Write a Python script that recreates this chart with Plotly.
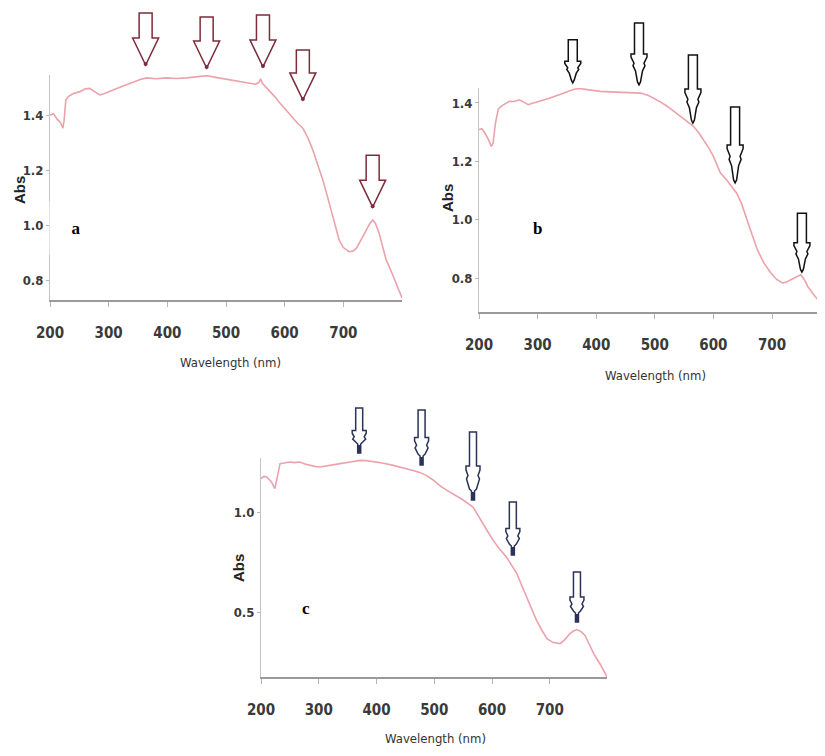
import plotly.graph_objects as go

# ---------------- data ----------------
wl_a = [200, 206, 212, 218, 222, 224, 227, 231, 240, 251, 260, 268, 276, 285, 293, 302, 315, 330, 342, 355,
        365, 380, 399, 415, 433, 450, 467, 485, 501, 520, 535, 550, 556, 559, 562, 569, 576, 583, 590, 597,
        605, 614, 622, 631, 640, 648, 656, 665, 674, 682, 688, 693, 700, 710, 716, 722, 730, 739, 745, 750,
        755, 761, 767, 773, 782, 790, 796, 800]
abs_a = [1.400, 1.405, 1.385, 1.372, 1.352, 1.380, 1.455, 1.467, 1.478, 1.485, 1.495, 1.497, 1.485, 1.473,
         1.478, 1.485, 1.497, 1.510, 1.521, 1.530, 1.535, 1.532, 1.535, 1.533, 1.535, 1.538, 1.543, 1.536,
         1.530, 1.522, 1.516, 1.512, 1.518, 1.532, 1.515, 1.500, 1.485, 1.467, 1.448, 1.430, 1.410, 1.388,
         1.370, 1.352, 1.315, 1.273, 1.220, 1.164, 1.095, 1.030, 0.980, 0.945, 0.918, 0.903, 0.905, 0.915,
         0.945, 0.982, 1.005, 1.018, 1.005, 0.970, 0.920, 0.873, 0.830, 0.788, 0.755, 0.735]

wl_b = [200, 205, 210, 216, 221, 224, 228, 233, 240, 252, 260, 269, 277, 284, 290, 304, 320, 338, 350, 361,
        370, 378, 392, 407, 425, 441, 460, 476, 490, 498, 510, 521, 532, 543, 555, 566, 575, 583, 592, 600,
        612, 623, 632, 640, 648, 657, 666, 675, 686, 698, 708, 718, 725, 732, 740, 749, 755, 761, 770, 778,
        785, 790]
abs_b = [1.309, 1.312, 1.297, 1.275, 1.251, 1.262, 1.330, 1.380, 1.392, 1.406, 1.405, 1.411, 1.402, 1.394,
         1.398, 1.406, 1.416, 1.429, 1.438, 1.446, 1.450, 1.448, 1.443, 1.440, 1.438, 1.437, 1.436, 1.434,
         1.425, 1.417, 1.403, 1.389, 1.372, 1.354, 1.336, 1.320, 1.298, 1.274, 1.246, 1.217, 1.160, 1.135,
         1.110, 1.090, 1.055, 1.005, 0.948, 0.897, 0.852, 0.817, 0.795, 0.783, 0.786, 0.794, 0.802, 0.811,
         0.795, 0.771, 0.746, 0.726, 0.715, 0.709]

wl_c = [200, 205, 210, 214, 218, 224, 228, 233, 240, 250, 258, 267, 276, 285, 293, 302, 320, 337, 355, 371,
        382, 394, 410, 429, 446, 463, 475, 486, 498, 509, 520, 532, 550, 567, 575, 584, 593, 602, 613, 625,
        634, 643, 651, 660, 668, 677, 686, 695, 706, 718, 726, 735, 741, 747, 754, 761, 768, 776, 788, 799]
abs_c = [1.167, 1.178, 1.175, 1.160, 1.150, 1.117, 1.180, 1.242, 1.245, 1.250, 1.247, 1.250, 1.240, 1.233,
         1.228, 1.225, 1.232, 1.242, 1.250, 1.258, 1.257, 1.253, 1.245, 1.233, 1.222, 1.208, 1.198, 1.183,
         1.160, 1.133, 1.112, 1.092, 1.060, 1.025, 0.985, 0.942, 0.900, 0.858, 0.815, 0.775, 0.735, 0.692,
         0.635, 0.575, 0.515, 0.458, 0.410, 0.367, 0.347, 0.342, 0.362, 0.392, 0.405, 0.412, 0.402, 0.383,
         0.340, 0.292, 0.235, 0.175]

# arrow tips (wavelength, absorbance)
arrow_a_wl = [363, 467, 563, 631, 750]
arrow_a_abs = [1.582, 1.571, 1.575, 1.455, 1.065]
arrow_b_wl = [360, 473, 565, 637, 751]
arrow_b_abs = [1.469, 1.462, 1.331, 1.126, 0.820]
arrow_c_wl = [370, 478, 567, 636, 747]
arrow_c_abs = [1.295, 1.235, 1.060, 0.785, 0.450]

x_ticks = [200, 300, 400, 500, 600, 700]
y_ticks_ab = [0.8, 1.0, 1.2, 1.4]
y_ticks_c = [0.5, 1.0]

# ---------------- layout / style ----------------
# the page body adds an 8px margin, so the figure is 8px smaller and positions are shifted by 8
OFF = 8
FW, FH = 825 - OFF, 756 - OFF
LINE = "#eba2aa"
NARROW = "DejaVu Sans Condensed, Liberation Sans Narrow, Arial Narrow, sans-serif"


def px(x):
    return (x - OFF) / FW


def py(y):
    return 1 - (y - OFF) / FH


panels = {
    "a": dict(x=wl_a, y=abs_a, xd=[px(50), px(402)], xr=[200, 800],
              yd=[py(300), py(75)], yr=[0.7273, 1.5455], yt=y_ticks_ab,
              aw=arrow_a_wl, aa=arrow_a_abs, alen=[52, 51, 52, 50, 52], style="a", color="#7d2c3b"),
    "b": dict(x=wl_b, y=abs_b, xd=[px(479), 1.0], xr=[200, 790.4],
              yd=[py(312), py(88)], yr=[0.6835, 1.4514], yt=y_ticks_ab,
              aw=arrow_b_wl, aa=arrow_b_abs, alen=[43, 62, 68, 76, 59], style="b", color="#111111"),
    "c": dict(x=wl_c, y=abs_c, xd=[px(261), px(607)], xr=[200, 799],
              yd=[py(677), py(458)], yr=[0.175, 1.27], yt=y_ticks_c,
              aw=arrow_c_wl, aa=arrow_c_abs, alen=[45, 55, 68, 53, 50], style="c", color="#2b3358"),
}

fig = go.Figure()
shapes = []
annotations = []


def arrow_path(style, L):
    if style == "a":
        hw, sw, hh = 13, 6.5, 27
        pts = [(0, 0), (-hw, hh), (-sw, hh), (-sw, L), (sw, L), (sw, hh), (hw, hh)]
    elif style == "b":
        hh = L * 0.5
        pts = [(0, 0), (-1.5, 3), (-3.5, hh * 0.45), (-6, hh * 0.62), (-5, hh * 0.7), (-8, hh * 0.9),
               (-8, hh), (-4.5, hh), (-4.5, L), (4.5, L), (4.5, hh), (8, hh), (8, hh * 0.9),
               (5, hh * 0.7), (6, hh * 0.62), (3.5, hh * 0.45), (1.5, 3)]
    else:
        hh = L * 0.5
        pts = [(-1.5, 0), (-1.5, 9), (-3.5, 11), (-6.5, hh * 0.62), (-5, hh * 0.72), (-7, hh * 0.88),
               (-7, hh), (-3.5, hh), (-3.5, L), (3.5, L), (3.5, hh), (7, hh), (7, hh * 0.88),
               (5, hh * 0.72), (6.5, hh * 0.62), (3.5, 11), (1.5, 9), (1.5, 0)]
    return "M " + " L ".join(f"{x:.2f},{y:.2f}" for x, y in pts) + " Z"


for i, (name, p) in enumerate(panels.items()):
    n = "" if i == 0 else str(i + 1)
    xa, ya = "x" + n, "y" + n
    fig.add_trace(go.Scatter(x=p["x"], y=p["y"], mode="lines", xaxis=xa, yaxis=ya,
                             line=dict(color=LINE, width=1.6), hoverinfo="skip", showlegend=False))
    xkey, ykey = "xaxis" + n, "yaxis" + n
    fig.update_layout(**{
        xkey: dict(domain=p["xd"], range=p["xr"], anchor=ya, showgrid=False, zeroline=False,
                   automargin=False,
                   showline=True, linecolor="#9a9a9a", linewidth=2, ticks="outside", ticklen=5,
                   tickcolor="#b5b5b5", tickwidth=1, tickvals=x_ticks, ticklabelstandoff=13,
                   tickfont=dict(family=NARROW, size=15, color="#3a3a3a", weight="bold")),
        ykey: dict(domain=p["yd"], range=p["yr"], anchor=xa, showgrid=False, zeroline=False,
                   automargin=False,
                   showline=True, linecolor="#c4c4c4", linewidth=1, ticks="outside", ticklen=3,
                   tickcolor="#b5b5b5", tickwidth=1, tickvals=p["yt"], tickformat=".1f",
                   tickfont=dict(family=NARROW, size=13, color="#3a3a3a", weight="bold")),
    })
    # arrows (positioned by data through the axis scales)
    for wl, ab, L in zip(p["aw"], p["aa"], p["alen"]):
        xf = (wl - p["xr"][0]) / (p["xr"][1] - p["xr"][0])
        yf = (ab - p["yr"][0]) / (p["yr"][1] - p["yr"][0])
        shapes.append(dict(type="path", xref=xa + " domain", yref=ya + " domain",
                           xsizemode="pixel", ysizemode="pixel", xanchor=xf, yanchor=yf,
                           path=arrow_path(p["style"], L), fillcolor="white",
                           line=dict(color=p["color"], width=1.5), layer="above"))
        if p["style"] == "a":
            shapes.append(dict(type="circle", xref=xa + " domain", yref=ya + " domain",
                               xsizemode="pixel", ysizemode="pixel", xanchor=xf, yanchor=yf,
                               x0=-2, x1=2, y0=-1, y1=3, fillcolor=p["color"],
                               line=dict(width=0), layer="above"))
        if p["style"] == "c":
            shapes.append(dict(type="rect", xref=xa + " domain", yref=ya + " domain",
                               xsizemode="pixel", ysizemode="pixel", xanchor=xf, yanchor=yf,
                               x0=-1.5, x1=1.5, y0=0, y1=8, fillcolor=p["color"],
                               line=dict(width=0), layer="above"))

# axis titles & panel letters (reference pixel positions)
title_pos = {"a": ((230, 362), (20, 190), (76, 228)),
             "b": ((655, 375), (447, 198), (537, 228)),
             "c": ((436, 738), (238, 568), (306, 608))}
for name, ((wx, wy), (ax_, ay_), (lx, ly)) in title_pos.items():
    annotations.append(dict(text="Wavelength (nm)", x=px(wx), y=py(wy), xref="paper", yref="paper",
                            xanchor="center", yanchor="middle", showarrow=False,
                            font=dict(family=NARROW, size=13, color="#333333")))
    annotations.append(dict(text="<b>Abs</b>", x=px(ax_), y=py(ay_), xref="paper", yref="paper",
                            xanchor="center", yanchor="middle", showarrow=False, textangle=-90,
                            font=dict(family="Liberation Sans, Arial, sans-serif", size=15, color="#222222")))
    extra = dict(bgcolor="white", width=50, height=50) if name == "a" else {}
    annotations.append(dict(text="<b>" + name + "</b>", x=px(lx), y=py(ly), xref="paper", yref="paper",
                            xanchor="center", yanchor="middle", showarrow=False,
                            font=dict(family="Liberation Serif, Times New Roman, serif", size=17, color="black"),
                            **extra))

fig.update_layout(width=FW, height=FH, margin=dict(l=0, r=0, t=0, b=0),
                  paper_bgcolor="white", plot_bgcolor="white", showlegend=False,
                  shapes=shapes, annotations=annotations)

fig.write_html("out.html")
